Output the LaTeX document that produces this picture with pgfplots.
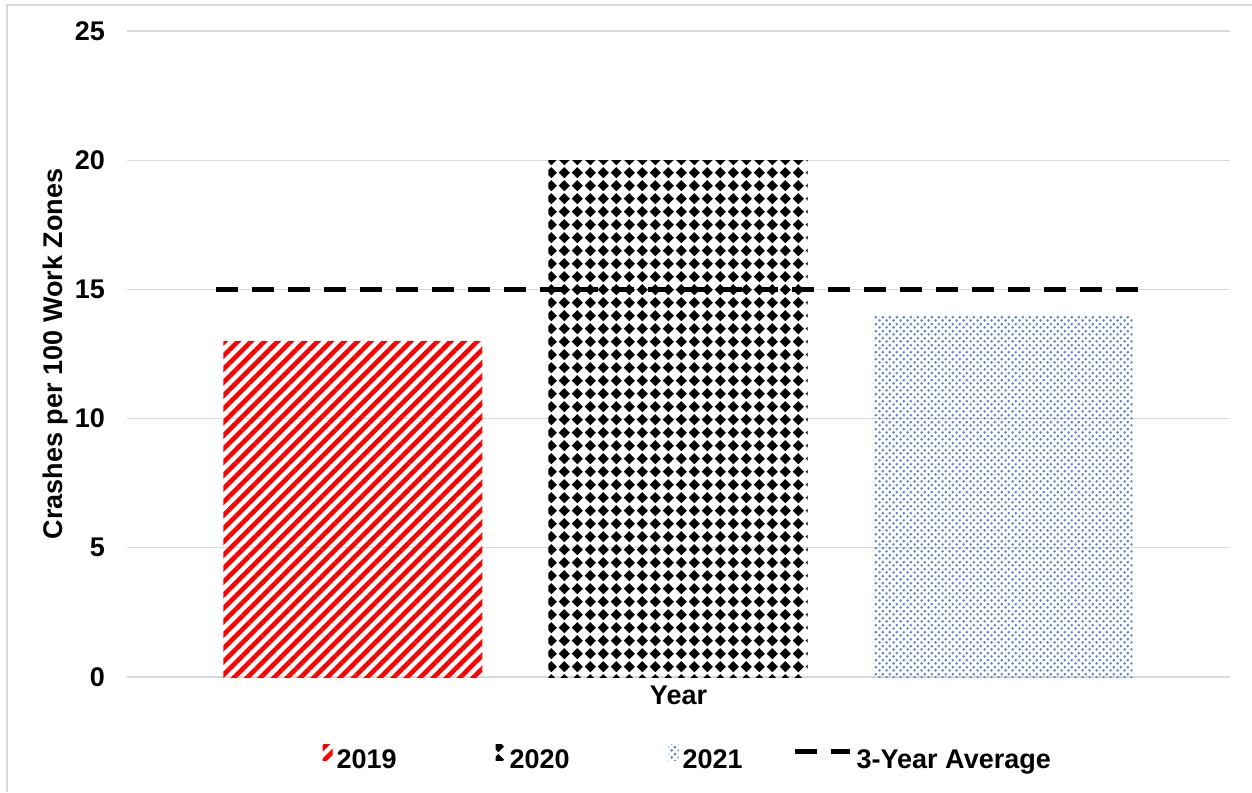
\documentclass[border=0pt]{standalone}
\usepackage{fontspec}
\setmainfont{Liberation Sans}
\usepackage{pgfplots}
\pgfplotsset{compat=1.18}
\usetikzlibrary{patterns,patterns.meta}

\definecolor{gridgray}{RGB}{217,217,217}
\definecolor{framegray}{RGB}{217,217,217}
\definecolor{dotblue}{RGB}{90,128,210}

% black diamonds on a square grid
\tikzdeclarepattern{
  name=diamondgrid,
  type=uncolored,
  bottom left={(0pt,0pt)},
  top right={(6.65pt,6.65pt)},
  tile size={(6.65pt,6.65pt)},
  code={\fill (0.4pt,3.325pt) -- (3.325pt,6.25pt) -- (6.25pt,3.325pt) -- (3.325pt,0.4pt) -- cycle;}
}
% fine staggered dots
\tikzdeclarepattern{
  name=finedots,
  type=uncolored,
  bottom left={(0pt,0pt)},
  top right={(3.35pt,3.35pt)},
  tile size={(3.35pt,3.35pt)},
  code={\fill (0.84pt,0.84pt) circle (0.75pt); \fill (2.51pt,2.51pt) circle (0.75pt);}
}

\pgfplotsset{
  patch legend/.style={legend image code/.code={
    \pgfpathrectangle{\pgfpoint{0pt}{0pt}}{\pgfpoint{24.5pt}{0pt}}\pgfusepath{discard}
    \path[##1,draw=none] (24.5pt,0pt) rectangle (29.5pt,8pt);}},
  dash legend/.style={legend image code/.code={
    \draw[##1] (0pt,4.5pt) -- (27.5pt,4.5pt);}},
}

\newcommand{\chartfont}{\bfseries\fontsize{13.5}{16}\selectfont}

\begin{document}
\begin{tikzpicture}
\useasboundingbox (-63.5pt,-57.5pt) rectangle (562.5pt,338.5pt);
\fill[white] (-63.5pt,-57.5pt) rectangle (562.5pt,338.5pt);
\draw[framegray, line width=1pt] (-60pt,-57.5pt) -- (-60pt,336pt) -- (562.5pt,336pt);

\begin{axis}[
  at={(0pt,0pt)}, anchor=south west,
  scale only axis,
  width=551.5pt, height=323pt,
  xmin=-0.695, xmax=2.698,
  ymin=0, ymax=25,
  ytick={0,5,10,15,20,25},
  xtick=\empty,
  ymajorgrids,
  grid style={gridgray, line width=0.6pt},
  axis line style={draw=none},
  major tick length=0pt,
  /pgf/number format/assume math mode=true,
  tick label style={font=\chartfont},
  yticklabel style={xshift=-7.5pt},
  xlabel={Year},
  ylabel={Crashes per 100 Work Zones},
  label style={font=\chartfont},
  xlabel style={at={(axis description cs:0.5,0)}, anchor=center, yshift=-9pt},
  ylabel style={at={(axis description cs:-0.065,0.5)}, anchor=center},
  legend columns=4,
  legend style={
    at={(axis description cs:0.487,-0.1285)}, anchor=center,
    draw=none, fill=none, font=\chartfont,
    /tikz/every even column/.append style={column sep=23pt},
  },
]
% yearly rates
\addplot[ybar, bar width=0.797, bar shift=0pt, draw=none,
  pattern={Lines[angle=45,distance=4.7pt,line width=2.3pt]}, pattern color=red,
  patch legend]
  coordinates {(0,13)};
\addlegendentry{2019}

\addplot[ybar, bar width=0.797, bar shift=0pt, draw=none,
  pattern=diamondgrid, pattern color=black, patch legend]
  coordinates {(1,20)};
\addlegendentry{2020}

\addplot[ybar, bar width=0.797, bar shift=0pt, draw=none,
  pattern=finedots, pattern color=dotblue, patch legend]
  coordinates {(2,14)};
\addlegendentry{2021}

% three-year average
\addplot[black, line width=2.5pt, dash pattern=on 11pt off 7pt, dash legend]
  coordinates {(-0.42,15) (2.42,15)};
\addlegendentry{3-Year Average}
\end{axis}
\end{tikzpicture}
\end{document}
